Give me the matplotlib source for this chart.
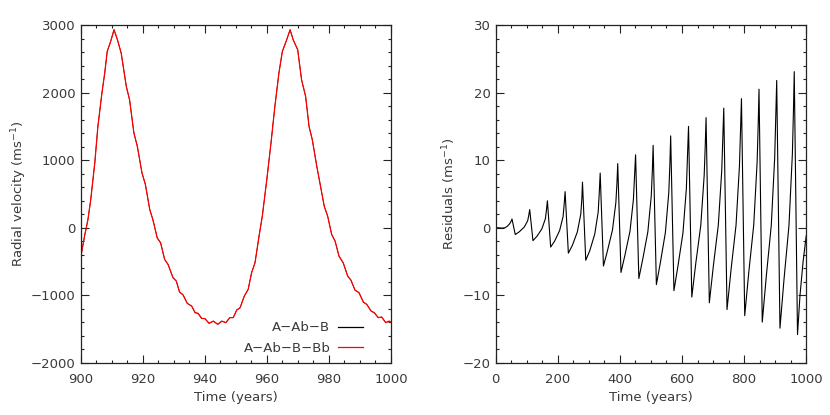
import matplotlib
matplotlib.use("Agg")
import matplotlib.pyplot as plt
from matplotlib.ticker import MultipleLocator

# ---------------- data: left panel (radial velocity) ----------------
rv_time = [900.0, 901.3, 902.4, 903.3, 904.6, 905.6, 906.9, 907.8, 908.6, 909.7,
           910.8, 911.9, 913.1, 914.75, 915.8, 917.2, 918.3, 919.8, 920.9, 922.3,
           923.3, 924.7, 925.8, 927.1, 928.2, 929.8, 930.85, 931.9, 933.0, 934.4,
           935.8, 936.9, 937.9, 939.0, 940.1, 941.4, 942.8, 944.2, 945.5, 946.8,
           948.1, 949.2, 950.3, 951.4, 952.75, 954.0, 955.1, 956.2, 957.5, 958.55,
           960.0, 961.35, 962.6, 963.9, 965.0, 966.4, 967.5, 968.5, 969.95, 971.2,
           972.5, 973.6, 974.65, 976.1, 977.1, 978.5, 979.6, 980.9, 982.0, 983.25,
           984.6, 986.05, 987.1, 988.4, 989.7, 991.1, 992.2, 993.6, 994.6, 995.9,
           997.0, 998.3, 999.4, 1000.0]
rv_value = [-458, -124, 123, 418, 960, 1500, 1994, 2289, 2608, 2756,
            2930, 2781, 2585, 2091, 1895, 1403, 1205, 812, 640, 270,
            123, -148, -222, -468, -542, -739, -788, -951, -990, -1118,
            -1158, -1255, -1266, -1340, -1344, -1413, -1380, -1428, -1380, -1403,
            -1329, -1329, -1217, -1182, -1010, -911, -665, -517, -124, 172,
            713, 1255, 1796, 2289, 2608, 2781, 2930, 2781, 2634, 2190,
            1944, 1500, 1304, 910, 664, 319, 172, -99, -198, -419,
            -517, -715, -774, -922, -960, -1099, -1133, -1232, -1256, -1329,
            -1320, -1403, -1380, -1400]

series_labels = ["A\u2212Ab\u2212B", "A\u2212Ab\u2212B\u2212Bb"]
series_colors = ["black", "red"]

# ---------------- data: right panel (residuals) ----------------
res_time = [0, 10, 20, 30, 38, 45, 50, 52.5, 63,
            76, 92, 103, 106.5, 109.5, 120,
            133, 149, 160, 163.5, 166.5, 177,
            190, 206, 217, 220.5, 223.5, 234,
            247, 263, 274, 277.5, 279.5, 290,
            303, 319, 330, 333.5, 336.5, 347,
            360, 376, 387, 390.5, 393, 403.5,
            416.5, 432.5, 443.5, 447, 450.5, 461,
            474, 490, 501, 504.5, 507, 517.5,
            530.5, 546.5, 557.5, 561, 563.5, 574,
            587, 603, 614, 617.5, 621, 631.5,
            644.5, 660.5, 671.5, 675, 677.5, 688,
            701, 717, 728, 731.5, 734.5, 745,
            758, 774, 785, 788.5, 791.5, 802,
            815, 831, 842, 845.5, 848, 858.5,
            871.5, 887.5, 898.5, 902, 905, 915.5,
            928.5, 944.5, 955.5, 959, 961.5, 972,
            980, 990, 1000]
res_value = [0.0, 0.0, -0.05, 0.0, 0.25, 0.6, 1.0, 1.3, -1.0,
             -0.59, 0.11, 1.04, 1.85, 2.7, -1.9,
             -1.25, -0.13, 1.35, 2.64, 4.0, -2.85,
             -1.95, -0.39, 1.66, 3.46, 5.35, -3.75,
             -2.59, -0.6, 2.03, 4.34, 6.75, -4.8,
             -3.38, -0.93, 2.30, 5.13, 8.1, -5.65,
             -3.38, -0.35, 3.74, 6.62, 9.5, -6.6,
             -3.99, -0.51, 4.19, 7.49, 10.8, -7.5,
             -4.54, -0.60, 4.71, 8.46, 12.2, -8.4,
             -5.10, -0.70, 5.24, 9.42, 13.6, -9.3,
             -5.65, -0.79, 5.77, 10.38, 15.0, -10.25,
             -5.21, 0.37, 7.80, 12.32, 16.3, -11.1,
             -5.63, 0.42, 8.48, 13.38, 17.7, -12.1,
             -6.17, 0.38, 9.12, 14.42, 19.1, -13.0,
             -6.63, 0.40, 9.78, 15.48, 20.5, -13.95,
             -7.16, 0.35, 10.36, 16.44, 21.8, -14.85,
             -7.64, 0.33, 10.96, 17.41, 23.1, -15.8,
             -10.0, -5.0, -1.2]

# ---------------- figure ----------------
plt.rcParams['font.family'] = ['DejaVu Sans']
plt.rcParams['font.size'] = 9.5
text_color = '#3a3a3a'

fig = plt.figure(figsize=(8.3, 4.15), dpi=100)
ax1 = fig.add_axes([80.5 / 830, 1 - 363 / 415, 310.5 / 830, 338 / 415])
ax2 = fig.add_axes([495.7 / 830, 1 - 363 / 415, 310.5 / 830, 338 / 415])

series_widths = [0.5, 0.9]
for lab, col, lw in zip(series_labels, series_colors, series_widths):
    ax1.plot(rv_time, rv_value, color=col, lw=lw, label=lab)

ax2.plot(res_time, res_value, color='black', lw=0.8)

ax1.set_xlim(900, 1000)
ax1.set_ylim(-2000, 3000)
ax1.xaxis.set_major_locator(MultipleLocator(20))
ax1.xaxis.set_minor_locator(MultipleLocator(5))
ax1.yaxis.set_major_locator(MultipleLocator(1000))
ax1.yaxis.set_minor_locator(MultipleLocator(200))
ax1.set_xlabel('Time (years)', color=text_color, labelpad=3)
ax1.set_ylabel(r'Radial velocity (ms$^{-1}$)', color=text_color)
ax1.yaxis.set_label_coords(-0.165, 0.5)

ax2.set_xlim(0, 1000)
ax2.set_ylim(-20, 30)
ax2.xaxis.set_major_locator(MultipleLocator(200))
ax2.xaxis.set_minor_locator(MultipleLocator(50))
ax2.yaxis.set_major_locator(MultipleLocator(10))
ax2.yaxis.set_minor_locator(MultipleLocator(2))
ax2.set_xlabel('Time (years)', color=text_color, labelpad=3)
ax2.set_ylabel(r'Residuals (ms$^{-1}$)', color=text_color)
ax2.yaxis.set_label_coords(-0.12, 0.5)

for ax in (ax1, ax2):
    ax.tick_params(which='both', direction='in', top=True, right=True,
                   colors='#222222', labelcolor=text_color, width=0.8)
    ax.tick_params(which='major', length=5.5)
    ax.tick_params(which='minor', length=2.5)
    ax.tick_params(axis='x', which='major', pad=7.5)
    ax.tick_params(axis='y', which='major', pad=3.5)
    for sp in ax.spines.values():
        sp.set_linewidth(0.9)
        sp.set_color('#222222')

leg = ax1.legend(loc='lower right', bbox_to_anchor=(0.909, 0.025),
                 markerfirst=False, frameon=False, borderpad=0,
                 borderaxespad=0, handlelength=1.85, handletextpad=0.6,
                 labelspacing=0.55, fontsize=9.5)
for t in leg.get_texts():
    t.set_color(text_color)
for h in leg.get_lines():
    h.set_linewidth(0.9)

fig.savefig('out.png', dpi=100)
